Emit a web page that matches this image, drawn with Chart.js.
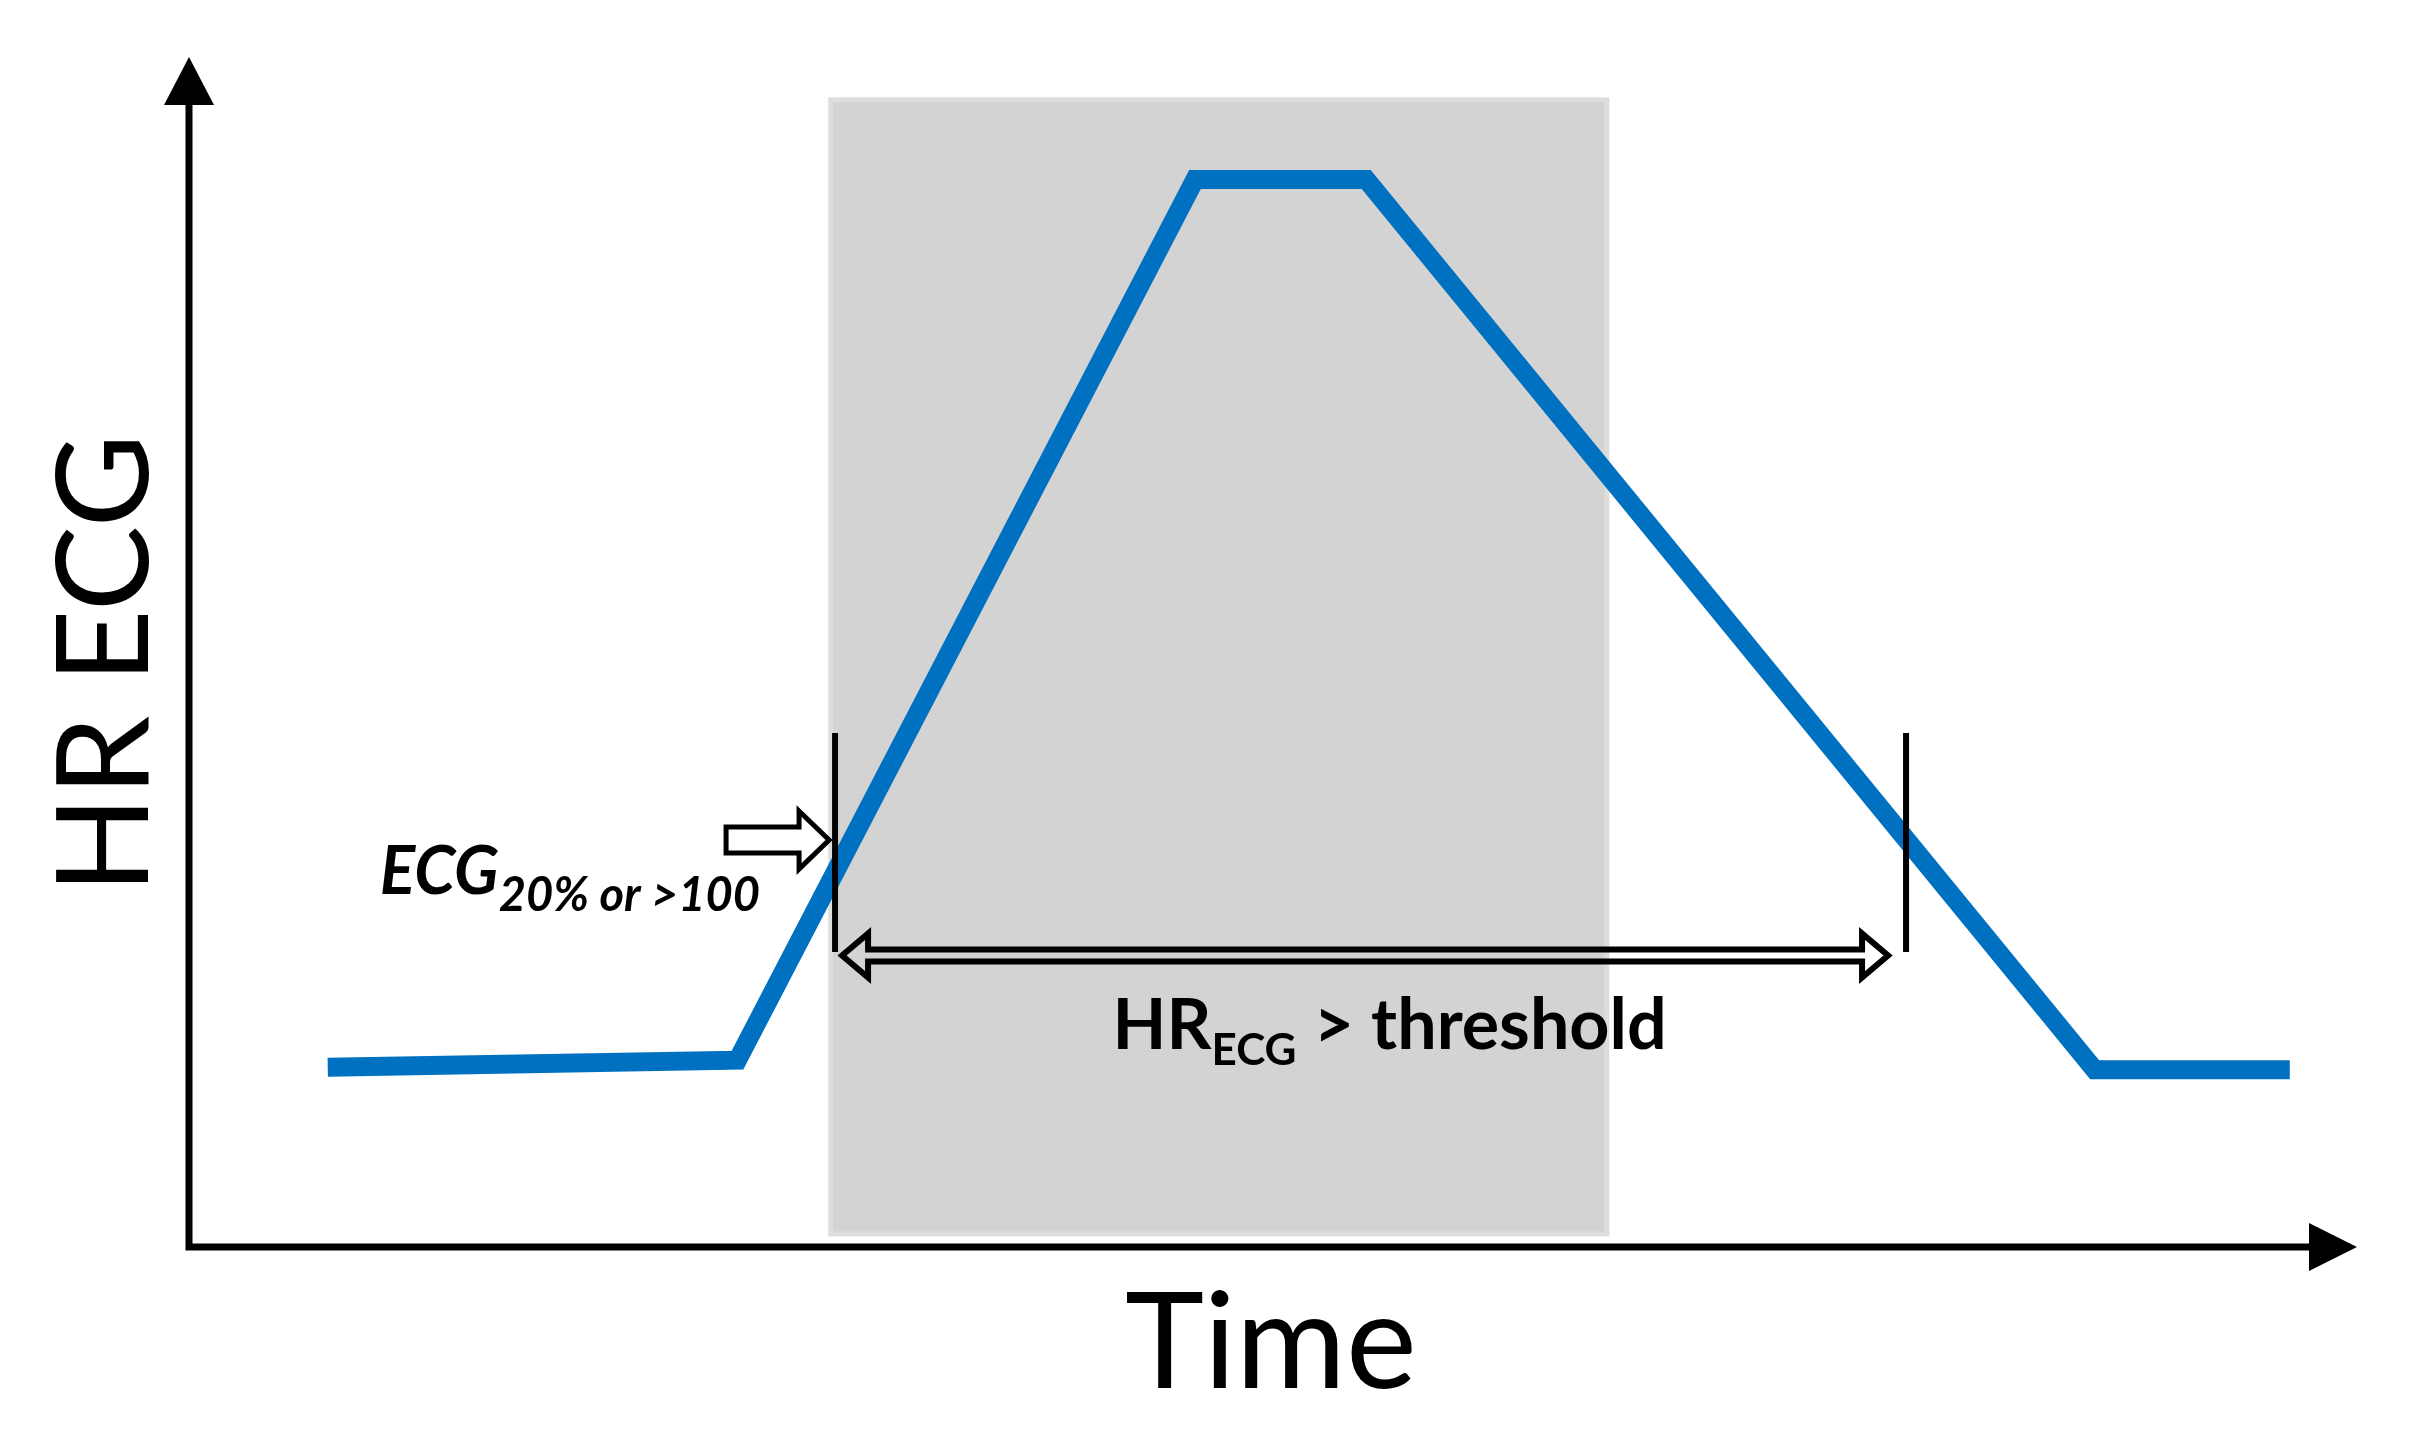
<!DOCTYPE html>
<html>
<head>
<meta charset="utf-8">
<script src="https://cdn.jsdelivr.net/npm/chart.js@4.4.1/dist/chart.umd.min.js"></script>
<style>
  html, body { margin: 0; padding: 0; background: #fff; }
  #wrap { width: 2409px; height: 1440px; position: relative; }
</style>
</head>
<body>
<div id="wrap"><canvas id="chart"></canvas></div>
<script>
// HR curve, schematic units (both axes 0-100)
const timeValues = [6.4, 25.3, 46.4, 54.3, 87.9, 96.9];
const hrValues   = [15.1, 15.7, 89.7, 89.7, 14.9, 14.9];

// shaded window (time / hr range)
const windowTime = [29.6, 65.4];
const windowHr   = [1.1, 96.4];

// threshold crossings: time, and hr span of the tick
const crossTime = [29.8, 79.2];
const crossHr   = [24.8, 43.2];

// texts
const axisTitles = { x: 'Time', y: 'HR ECG' };
const onsetLabel = ['ECG', '20% or >100'];
const spanLabel  = ['HR', 'ECG', ' > threshold'];

const C = {
  line:  '#0070c0',
  shade: '#d3d3d3',
  edge:  '#dddddd',
  ink:   '#000000',
};
const FONT = 'Lato, "Open Sans", sans-serif';

// draw text runs one after another (for subscripts)
function runs(ctx, list, x, y) {
  list.forEach(r => {
    ctx.font = r.font;
    ctx.fillText(r.text, x, y + (r.dy || 0));
    x += ctx.measureText(r.text).width;
  });
}

const sketch = {
  id: 'sketch',
  beforeDatasetsDraw(chart) {
    const { ctx, scales: { x, y } } = chart;
    const x0 = x.getPixelForValue(windowTime[0]);
    const x1 = x.getPixelForValue(windowTime[1]);
    const y0 = y.getPixelForValue(windowHr[1]);
    const y1 = y.getPixelForValue(windowHr[0]);
    ctx.save();
    ctx.fillStyle = C.shade;
    ctx.fillRect(x0, y0, x1 - x0, y1 - y0);
    ctx.strokeStyle = C.edge;
    ctx.lineWidth = 5;
    ctx.strokeRect(x0, y0, x1 - x0, y1 - y0);
    ctx.restore();
  },
  afterDatasetsDraw(chart) {
    const { ctx, scales: { x, y } } = chart;
    ctx.save();
    ctx.strokeStyle = C.ink;
    ctx.fillStyle = C.ink;

    // axes with arrow heads
    const ox = x.getPixelForValue(0), oy = y.getPixelForValue(0);
    const tx = x.getPixelForValue(100), ty = y.getPixelForValue(100);
    ctx.lineWidth = 7;
    ctx.beginPath();
    ctx.moveTo(ox, ty + 45);
    ctx.lineTo(ox, oy);
    ctx.lineTo(tx - 45, oy);
    ctx.stroke();
    ctx.beginPath();
    ctx.moveTo(ox, ty);
    ctx.lineTo(ox - 25, ty + 48);
    ctx.lineTo(ox + 25, ty + 48);
    ctx.closePath();
    ctx.fill();
    ctx.beginPath();
    ctx.moveTo(tx, oy);
    ctx.lineTo(tx - 48, oy - 24);
    ctx.lineTo(tx - 48, oy + 24);
    ctx.closePath();
    ctx.fill();

    // threshold ticks
    ctx.lineWidth = 6;
    crossTime.forEach(t => {
      const px = x.getPixelForValue(t);
      ctx.beginPath();
      ctx.moveTo(px, y.getPixelForValue(crossHr[1]));
      ctx.lineTo(px, y.getPixelForValue(crossHr[0]));
      ctx.stroke();
    });

    // double arrow between the ticks
    const ay = y.getPixelForValue(24.5);
    const l = x.getPixelForValue(crossTime[0]) + 7;
    const r = x.getPixelForValue(crossTime[1]) - 18;
    const sh = 6, hh = 22, hl = 26;
    ctx.lineWidth = 6;
    ctx.lineJoin = 'miter';
    ctx.beginPath();
    ctx.moveTo(l, ay);
    ctx.lineTo(l + hl, ay - hh);
    ctx.lineTo(l + hl, ay - sh);
    ctx.lineTo(r - hl, ay - sh);
    ctx.lineTo(r - hl, ay - hh);
    ctx.lineTo(r, ay);
    ctx.lineTo(r - hl, ay + hh);
    ctx.lineTo(r - hl, ay + sh);
    ctx.lineTo(l + hl, ay + sh);
    ctx.lineTo(l + hl, ay + hh);
    ctx.closePath();
    ctx.stroke();

    // hollow arrow pointing at the onset
    const bx = x.getPixelForValue(crossTime[0]) - 6;
    const by = y.getPixelForValue(34.2);
    ctx.lineWidth = 5;
    ctx.beginPath();
    ctx.moveTo(bx - 103, by - 13);
    ctx.lineTo(bx - 30, by - 13);
    ctx.lineTo(bx - 30, by - 29);
    ctx.lineTo(bx, by);
    ctx.lineTo(bx - 30, by + 29);
    ctx.lineTo(bx - 30, by + 13);
    ctx.lineTo(bx - 103, by + 13);
    ctx.closePath();
    ctx.fillStyle = '#fff';
    ctx.fill();
    ctx.stroke();

    // labels
    ctx.fillStyle = C.ink;
    ctx.textAlign = 'left';
    ctx.textBaseline = 'alphabetic';
    runs(ctx, [
      { text: onsetLabel[0], font: `italic bold 66px ${FONT}` },
      { text: onsetLabel[1], font: `italic bold 47px ${FONT}`, dy: 17 },
    ], x.getPixelForValue(8.8), y.getPixelForValue(29.7));

    runs(ctx, [
      { text: spanLabel[0], font: `bold 70px ${FONT}` },
      { text: spanLabel[1], font: `bold 44px ${FONT}`, dy: 16 },
      { text: spanLabel[2], font: `bold 70px ${FONT}` },
    ], x.getPixelForValue(42.6), y.getPixelForValue(16.6));

    // axis titles
    ctx.textAlign = 'center';
    ctx.font = `134px ${FONT}`;
    ctx.fillText(axisTitles.x, x.getPixelForValue(49.9), oy + 141);
    ctx.font = `128px ${FONT}`;
    ctx.translate(ox - 41, y.getPixelForValue(49));
    ctx.rotate(-Math.PI / 2);
    ctx.fillText(axisTitles.y, 0, 0);
    ctx.restore();
  },
};

new Chart(document.getElementById('chart'), {
  type: 'line',
  data: {
    datasets: [{
      data: timeValues.map((t, i) => ({ x: t, y: hrValues[i] })),
      borderColor: C.line,
      borderWidth: 19,
      borderJoinStyle: 'miter',
      borderCapStyle: 'butt',
      pointRadius: 0,
      tension: 0,
    }],
  },
  options: {
    responsive: true,
    maintainAspectRatio: false,
    animation: false,
    layout: { padding: { left: 189, right: 52, top: 57, bottom: 193 } },
    plugins: { legend: { display: false }, tooltip: { enabled: false } },
    scales: {
      x: { type: 'linear', min: 0, max: 100, display: false },
      y: { type: 'linear', min: 0, max: 100, display: false },
    },
  },
  plugins: [sketch],
});
</script>
</body>
</html>
